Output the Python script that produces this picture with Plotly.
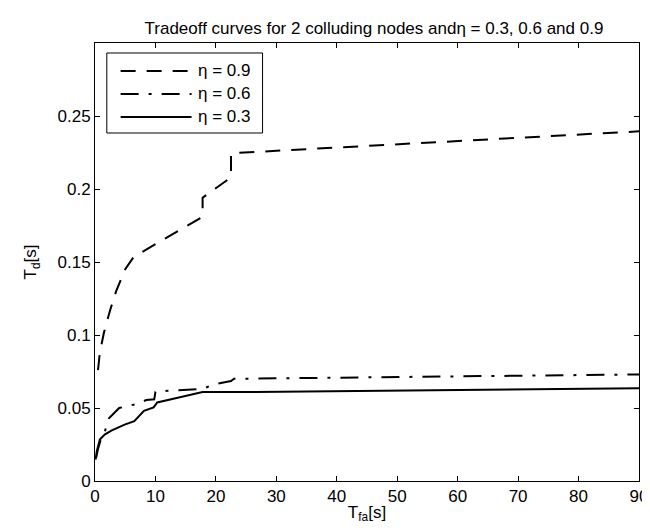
import plotly.graph_objects as go

# eta = 0.9 (dashed)
x09 = [0.5, 0.8, 1.5, 2.5, 3.5, 5.0, 6.4, 17.8, 17.8, 22.5, 22.5, 90]
y09 = [0.076, 0.088, 0.102, 0.117, 0.130, 0.145, 0.1535, 0.181, 0.194, 0.208, 0.2245, 0.2395]

# eta = 0.6 (dash-dot)
x06 = [0.2, 0.5, 1.0, 1.6, 2.0, 2.3, 4.0, 6.8, 8.5, 9.8, 10.0, 12.0, 17.8, 19.5, 22.5, 23.0, 90]
y06 = [0.016, 0.022, 0.029, 0.033, 0.040, 0.043, 0.050, 0.0527, 0.0555, 0.056, 0.061, 0.0618, 0.063, 0.066, 0.0685, 0.070, 0.073]

# eta = 0.3 (solid)
x03 = [0.1, 0.3, 0.8, 1.6, 2.7, 4.9, 6.5, 7.3, 8.1, 9.7, 10.0, 10.3, 13.5, 15.7, 17.8, 26.5, 90]
y03 = [0.0147, 0.0204, 0.0284, 0.0318, 0.0345, 0.0386, 0.041, 0.0443, 0.0481, 0.0504, 0.0523, 0.0538, 0.0568, 0.059, 0.0609, 0.0609, 0.0635]

series_names = ["\u03b7 = 0.9", "\u03b7 = 0.6", "\u03b7 = 0.3"]
series_dash = ["15px,11px", "18px,10px,3px,10px", "solid"]

x_ticks = [0, 10, 20, 30, 40, 50, 60, 70, 80, 90]
y_ticks = [0, 0.05, 0.1, 0.15, 0.2, 0.25]
y_tick_labels = ["0", "0.05", "0.1", "0.15", "0.2", "0.25"]

FONT = "Liberation Sans, Arial, sans-serif"
FS = 17

fig = go.Figure()
for xs, ys, nm, dsh in zip([x09, x06, x03], [y09, y06, y03], series_names, series_dash):
    fig.add_trace(go.Scatter(x=xs, y=ys, mode="lines", name=nm, showlegend=False,
                             line=dict(color="black", width=2, dash=dsh)))

axis_common = dict(showline=True, linecolor="black", linewidth=1, mirror="ticks",
                   ticks="inside", ticklen=5, tickcolor="black", showgrid=False,
                   zeroline=False, ticklabeloverflow="allow",
                   tickfont=dict(size=FS, color="black", family=FONT))

# Legend box drawn in paper coordinates (MATLAB-style long line samples)
legend_box = dict(x0=0.0217, x1=0.308, y0=0.7945, y1=0.9772)
legend_rows_y = [0.9361, 0.8836, 0.8311]
legend_line_x = (0.0471, 0.1775)
legend_text_x = 0.1848

shapes = [dict(type="rect", xref="paper", yref="paper", layer="above",
               line=dict(color="black", width=1), fillcolor="white", **legend_box)]
annotations = []
for ry, nm, dsh in zip(legend_rows_y, series_names, series_dash):
    shapes.append(dict(type="line", xref="paper", yref="paper", layer="above",
                       x0=legend_line_x[0], x1=legend_line_x[1], y0=ry, y1=ry,
                       line=dict(color="black", width=2, dash=dsh)))
    annotations.append(dict(xref="paper", yref="paper", x=legend_text_x, y=ry,
                            xanchor="left", yanchor="middle", showarrow=False,
                            text=nm, font=dict(size=FS, color="black", family=FONT)))

fig.update_layout(
    width=650, height=530,
    margin=dict(l=87, r=10, t=35, b=57),
    paper_bgcolor="white", plot_bgcolor="white",
    font=dict(family=FONT, size=FS, color="black"),
    title=dict(text="Tradeoff curves for 2 colluding nodes and\u03b7 = 0.3, 0.6 and 0.9",
               x=0.563, xanchor="center", y=0.962, yanchor="middle",
               font=dict(size=FS, color="black", family=FONT)),
    xaxis=dict(range=[0, 90], tickvals=x_ticks,
               title=dict(text="T<sub>fa</sub>[s]", standoff=0, font=dict(size=FS)),
               **axis_common),
    yaxis=dict(range=[0, 0.3], tickvals=y_ticks, ticktext=y_tick_labels,
               title=dict(text="T<sub>d</sub>[s]", standoff=16, font=dict(size=FS)),
               **axis_common),
    shapes=shapes,
    annotations=annotations,
    showlegend=False,
)

fig.write_html("out.html")
